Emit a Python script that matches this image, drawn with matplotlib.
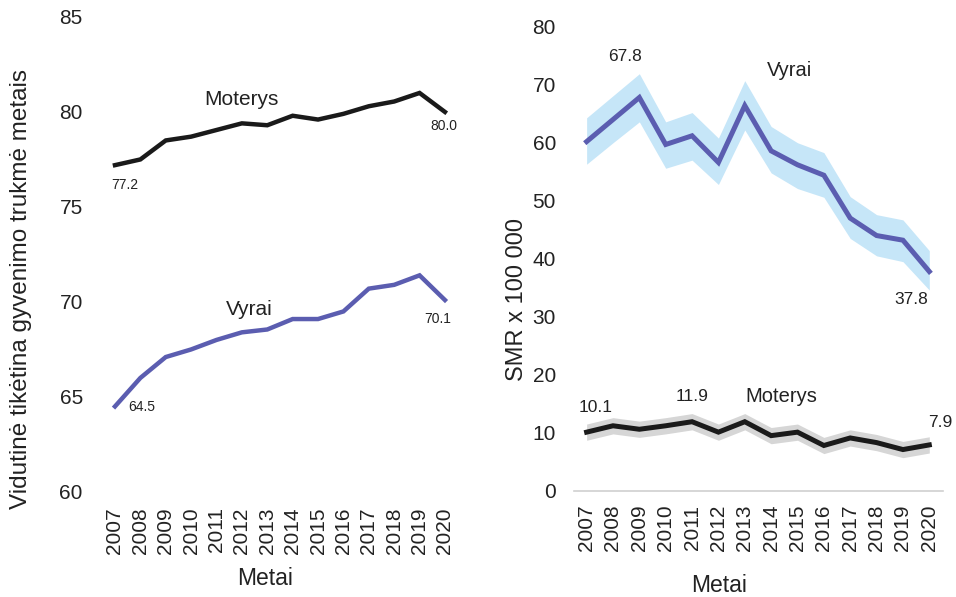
import matplotlib
matplotlib.use("Agg")
import matplotlib.pyplot as plt

plt.rcParams['font.family'] = ['Liberation Sans', 'DejaVu Sans']

years = list(range(2007, 2021))

# left panel: life expectancy
le_women = [77.2, 77.5, 78.5, 78.7, 79.05, 79.4, 79.3, 79.8, 79.6, 79.9, 80.3, 80.55, 81.0, 80.0]
le_men = [64.5, 66.0, 67.1, 67.5, 68.0, 68.4, 68.55, 69.1, 69.1, 69.5, 70.7, 70.9, 71.4, 70.1]

# right panel: SMR x 100 000 with intervals
smr_men = [60.2, 64.0, 67.8, 59.7, 61.2, 56.6, 66.4, 58.6, 56.2, 54.4, 47.0, 44.0, 43.2, 37.8]
smr_men_lo = [56.3, 60.0, 63.6, 55.6, 57.0, 52.8, 62.2, 54.8, 52.1, 50.6, 43.5, 40.5, 39.5, 34.6]
smr_men_hi = [64.3, 68.1, 71.9, 63.6, 65.2, 60.8, 70.7, 62.8, 60.0, 58.3, 50.7, 47.6, 46.7, 41.4]
smr_women = [10.1, 11.2, 10.6, 11.2, 11.9, 10.1, 11.9, 9.5, 10.1, 7.8, 9.1, 8.3, 7.1, 7.9]
smr_women_lo = [v - 1.4 for v in smr_women]
smr_women_hi = [v + 1.4 for v in smr_women]

purple = '#5b5db0'
black = '#1a1a1a'
txt = '#222222'

fig = plt.figure(figsize=(9.56, 5.97), dpi=100)
ax1 = fig.add_axes([0.107, 0.176, 0.3717, 0.7956])
ax2 = fig.add_axes([0.6004, 0.178, 0.386, 0.7772])

# left
ax1.plot(years, le_women, color=black, lw=3.2, solid_joinstyle='miter')
ax1.plot(years, le_men, color=purple, lw=3.2, solid_joinstyle='miter')
ax1.set_xlim(2006.5, 2020.5)
ax1.set_ylim(60, 85)
ax1.set_yticks([60, 65, 70, 75, 80, 85])
ax1.text(2012.0, 80.63, 'Moterys', fontsize=15, ha='center', va='center', color=txt)
ax1.text(2019.95, 79.26, '80.0', fontsize=10, ha='center', va='center', color=txt)
ax1.text(2007.4, 76.16, '77.2', fontsize=10, ha='center', va='center', color=txt)
ax1.text(2012.3, 69.58, 'Vyrai', fontsize=15, ha='center', va='center', color=txt)
ax1.text(2019.7, 69.1, '70.1', fontsize=10, ha='center', va='center', color=txt)
ax1.text(2008.05, 64.47, '64.5', fontsize=10, ha='center', va='center', color=txt)
ax1.set_xlabel('Metai', fontsize=16.5, color=txt)
ax1.xaxis.set_label_coords(0.457, -0.158)
ax1.set_ylabel('Vidutinė tikėtina gyvenimo trukmė metais', fontsize=17.5, color=txt)
ax1.yaxis.set_label_coords(-0.198, 0.428)
ax1.tick_params(axis='y', length=0, pad=14, labelsize=15, labelcolor=txt)
ax1.tick_params(axis='x', length=0, pad=11, labelsize=15, labelcolor=txt)

# right
ax2.fill_between(years, smr_men_lo, smr_men_hi, color='#c6e6f8', lw=0)
ax2.plot(years, smr_men, color=purple, lw=3.6, solid_joinstyle='miter')
ax2.fill_between(years, smr_women_lo, smr_women_hi, color='#d6d6d6', lw=0)
ax2.plot(years, smr_women, color=black, lw=3.6, solid_joinstyle='miter')
ax2.set_xlim(2006.52, 2020.52)
ax2.set_ylim(0, 80)
ax2.set_yticks(range(0, 81, 10))
ax2.text(2008.44, 74.8, '67.8', fontsize=12.5, ha='center', va='center', color=txt)
ax2.text(2014.7, 72.5, 'Vyrai', fontsize=14.5, ha='center', va='center', color=txt)
ax2.text(2019.3, 32.9, '37.8', fontsize=12.5, ha='center', va='center', color=txt)
ax2.text(2007.35, 14.4, '10.1', fontsize=12.5, ha='center', va='center', color=txt)
ax2.text(2011.0, 16.2, '11.9', fontsize=12.5, ha='center', va='center', color=txt)
ax2.text(2014.4, 16.2, 'Moterys', fontsize=14.5, ha='center', va='center', color=txt)
ax2.text(2020.4, 11.7, '7.9', fontsize=12.5, ha='center', va='center', color=txt)
ax2.set_xlabel('Metai', fontsize=16.5, color=txt)
ax2.xaxis.set_label_coords(0.394, -0.18)
ax2.set_ylabel('SMR x 100 000', fontsize=17, color=txt)
ax2.yaxis.set_label_coords(-0.125, 0.413)
ax2.tick_params(axis='y', length=0, pad=13, labelsize=15, labelcolor=txt)
ax2.tick_params(axis='x', length=0, pad=10, labelsize=15, labelcolor=txt)

for ax in (ax1, ax2):
    ax.set_xticks(years)
    ax.set_xticklabels([str(y) for y in years], rotation=90)
    for s in ax.spines.values():
        s.set_visible(False)
ax2.spines['bottom'].set_visible(True)
ax2.spines['bottom'].set_color('#d0d0d0')
ax2.spines['bottom'].set_linewidth(1.2)

fig.savefig('out.png', dpi=100)
